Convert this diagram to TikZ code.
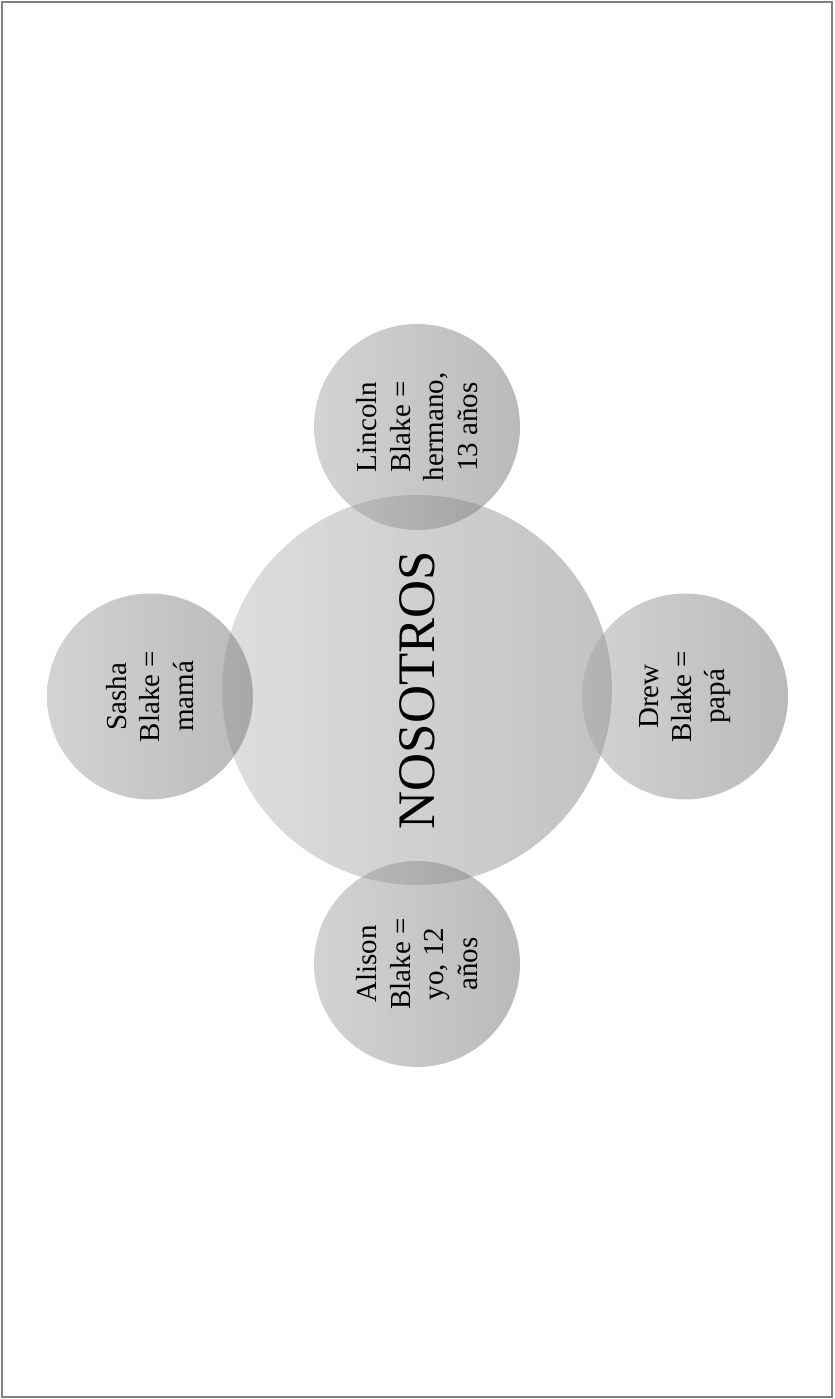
\documentclass[tikz,border=0pt]{standalone}
\usepackage{fontspec}
\setmainfont{Liberation Serif}
\usepackage{xcolor}
\usepackage{tikz}

\definecolor{bigL}{gray}{0.87}
\definecolor{bigR}{gray}{0.76}
\definecolor{ballL}{gray}{0.66}
\definecolor{ballR}{gray}{0.46}

\begin{document}
\begin{tikzpicture}[
    bigball/.style={circle, minimum size=7.8cm, inner sep=0pt, rotate=90,
        left color=bigL, right color=bigR, font=\fontsize{30}{34}\selectfont},
    ball/.style={circle, minimum size=4.12cm, inner sep=0pt, rotate=90,
        left color=ballL, right color=ballR, fill opacity=0.5, text opacity=1,
        align=center, font=\fontsize{16.5}{19}\selectfont}
]
    \useasboundingbox (0,0) rectangle (16.68,27.98);
    % Frame
    \draw[gray, line width=0.8pt] (0.04,0.04) rectangle (16.64,27.94);

    % Center
    \node[bigball] (nosotros) at (8.34,14.18) {NOSOTROS};

    % Family
    \node[ball] (lincoln) at (8.34,19.44) {Lincoln\\Blake =\\hermano,\\13 años};
    \node[ball] (sasha) at (3.00,14.05) {Sasha\\Blake =\\mamá};
    \node[ball] (drew) at (13.70,14.05) {Drew\\Blake =\\papá};
    \node[ball] (alison) at (8.34,8.70) {Alison\\Blake =\\yo, 12\\años};
\end{tikzpicture}
\end{document}
